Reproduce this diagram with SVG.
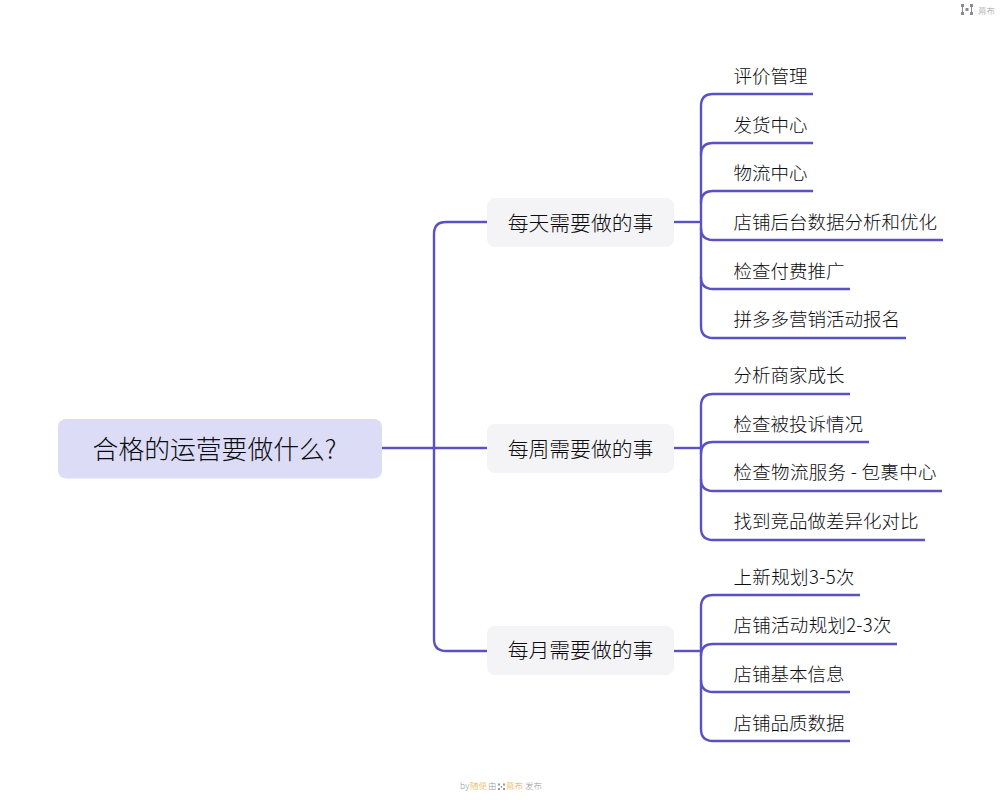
<svg xmlns="http://www.w3.org/2000/svg" width="1001" height="800" viewBox="0 0 1001 800">
<style>
text{font-family:"Noto Sans CJK SC","Noto Sans",sans-serif;fill:#0c0c10;font-weight:300}
.leaf{font-size:18.5px}
.branch{font-size:20.8px;text-anchor:middle}
.root{font-size:25.8px;text-anchor:middle}
.conn{fill:none;stroke:#5a52c2;stroke-width:2.4;stroke-linecap:butt}
.bn{fill:#f4f4f6}
.sm{font-size:8.500px}
text.g{fill:#999}
text.o{fill:#e6a93a}
</style>
<rect width="1001" height="800" fill="#fff"/>
<g id="connectors" class="conn">
<path d="M382 448H487"/>
<path d="M487 222H446Q434 222 434 234V639Q434 651 446 651H487"/>
<path d="M674 222H701"/>
<path d="M813 94H713Q701 94 701 106V326Q701 338 713 338H906"/>
<path d="M813 143H713Q701 143 701 155"/>
<path d="M813 191H713Q701 191 701 203"/>
<path d="M943 240H713Q701 240 701 228"/>
<path d="M850 289H713Q701 289 701 277"/>
<path d="M674 448H701"/>
<path d="M850 394H713Q701 394 701 406V528Q701 540 713 540H925"/>
<path d="M869 442H713Q701 442 701 454"/>
<path d="M942 491H713Q701 491 701 479"/>
<path d="M674 651H701"/>
<path d="M860 595H713Q701 595 701 607V729Q701 741 713 741H850"/>
<path d="M897 644H713Q701 644 701 656"/>
<path d="M850 692H713Q701 692 701 680"/>
</g>
<g id="root"><rect x="58" y="419" width="324" height="59.500" rx="8" fill="#dcdcf6"/><text class="root" x="214.500" y="459">合格的运营要做什么?</text></g>
<g id="b1"><rect class="bn" x="487" y="198" width="187" height="49" rx="8"/><text class="branch" x="580.500" y="231">每天需要做的事</text></g>
<g id="b2"><rect class="bn" x="487" y="424" width="187" height="49" rx="8"/><text class="branch" x="580.500" y="457">每周需要做的事</text></g>
<g id="b3"><rect class="bn" x="487" y="626" width="187" height="49" rx="8"/><text class="branch" x="580.500" y="658">每月需要做的事</text></g>
<g id="l1"><text class="leaf" x="733.500" y="83">评价管理</text></g>
<g id="l2"><text class="leaf" x="733.500" y="132">发货中心</text></g>
<g id="l3"><text class="leaf" x="733.500" y="180">物流中心</text></g>
<g id="l4"><text class="leaf" x="733.500" y="229">店铺后台数据分析和优化</text></g>
<g id="l5"><text class="leaf" x="733.500" y="278">检查付费推广</text></g>
<g id="l6"><text class="leaf" x="733.500" y="326">拼多多营销活动报名</text></g>
<g id="l7"><text class="leaf" x="733.500" y="382">分析商家成长</text></g>
<g id="l8"><text class="leaf" x="733.500" y="431">检查被投诉情况</text></g>
<g id="l9"><text class="leaf" x="733.500" y="479" textLength="203">检查物流服务 - 包裹中心</text></g>
<g id="l10"><text class="leaf" x="733.500" y="528">找到竞品做差异化对比</text></g>
<g id="l11"><text class="leaf" x="733.500" y="584" textLength="121">上新规划3-5次</text></g>
<g id="l12"><text class="leaf" x="733.500" y="632" textLength="158">店铺活动规划2-3次</text></g>
<g id="l13"><text class="leaf" x="733.500" y="681">店铺基本信息</text></g>
<g id="l14"><text class="leaf" x="733.500" y="730">店铺品质数据</text></g>
<g id="logo" fill="#8a8a90">
<rect x="961" y="4" width="3" height="3"/><rect x="961" y="12" width="3" height="3"/><rect x="962" y="6" width="1" height="7"/><rect x="970" y="4" width="3" height="3"/><rect x="970" y="12" width="3" height="3"/><rect x="971" y="6" width="1" height="7"/><rect x="965.500" y="8" width="3" height="3"/>
<text class="sm g" x="978" y="13.500">幕布</text>
</g>
<g id="footer">
<text class="sm g" x="460" y="789">by</text>
<text class="sm o" x="470" y="789">随便</text>
<text class="sm g" x="488" y="789">由</text>
<g fill="#999"><rect x="498" y="783.500" width="2" height="2"/><rect x="498" y="788" width="2" height="2"/><rect x="503" y="783.500" width="2" height="2"/><rect x="503" y="788" width="2" height="2"/><rect x="500.700" y="786" width="1.600" height="1.600"/></g>
<text class="sm o" x="506" y="789">幕布</text>
<text class="sm g" x="525" y="789">发布</text>
</g>
</svg>
